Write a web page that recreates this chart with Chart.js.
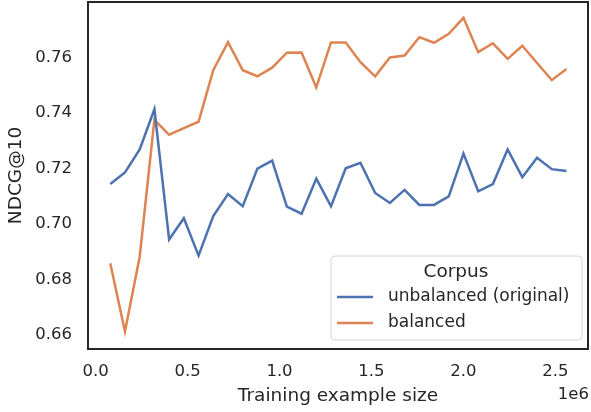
<!DOCTYPE html>
<html>
<head>
<meta charset="utf-8">
<script src="https://cdn.jsdelivr.net/npm/chart.js@4"></script>
<style>
  body { margin: 0; background: #fff; }
  #wrap { width: 591px; height: 412px; }
</style>
</head>
<body>
<div id="wrap"><canvas id="myLineChart" width="591" height="412"></canvas></div>
<script>
// training example sizes (k * 80000)
var sizes = [80000, 160000, 240000, 320000, 400000, 480000, 560000, 640000,
    720000, 800000, 880000, 960000, 1040000, 1120000, 1200000, 1280000,
    1360000, 1440000, 1520000, 1600000, 1680000, 1760000, 1840000, 1920000,
    2000000, 2080000, 2160000, 2240000, 2320000, 2400000, 2480000, 2560000];

var unbalanced = [0.7144, 0.7186, 0.7269, 0.7414, 0.6944, 0.7021, 0.6886, 0.7029,
    0.7108, 0.7064, 0.7200, 0.7229, 0.7063, 0.7037, 0.7164, 0.7064,
    0.7201, 0.7221, 0.7112, 0.7076, 0.7123, 0.7069, 0.7069, 0.7100,
    0.7254, 0.7118, 0.7144, 0.7269, 0.7169, 0.7239, 0.7198, 0.7191];

var balanced = [0.6858, 0.6612, 0.6882, 0.7376, 0.7322, 0.7346, 0.7369, 0.7555,
    0.7656, 0.7555, 0.7533, 0.7564, 0.7618, 0.7619, 0.7493, 0.7655,
    0.7655, 0.7584, 0.7533, 0.7601, 0.7608, 0.7674, 0.7654, 0.7686,
    0.7744, 0.7620, 0.7652, 0.7596, 0.7643, 0.7581, 0.7519, 0.7559];

var xTicks = [0, 500000, 1000000, 1500000, 2000000, 2500000];
var yTicks = [0.66, 0.68, 0.70, 0.72, 0.74, 0.76];

var seriesNames = ['unbalanced (original)', 'balanced'];
var seriesColors = ['#4C72B0', '#DD8452'];

var textColor = '#262626';
var fontFamily = '"DejaVu Sans", sans-serif';

function toPoints(values) {
    return values.map(function(v, i) { return { x: sizes[i], y: v }; });
}

// frame around the axes, the "1e6" offset text and the legend box
var decorations = {
    id: 'decorations',
    afterDatasetsDraw: function(chart) {
        var c = chart.ctx;
        var a = chart.chartArea;
        c.save();

        // legend
        var lx = 331, ly = 256, lw = 251, lh = 84;
        c.beginPath();
        c.roundRect(lx, ly, lw, lh, 4);
        c.fillStyle = 'rgba(255,255,255,0.8)';
        c.fill();
        c.strokeStyle = '#d6d6d6';
        c.lineWidth = 1;
        c.stroke();

        c.fillStyle = textColor;
        c.font = '18.5px ' + fontFamily;
        c.textAlign = 'center';
        c.textBaseline = 'middle';
        c.fillText('Corpus', 456, 272);

        c.font = '17px ' + fontFamily;
        c.textAlign = 'left';
        var rows = [297, 323];
        chart.data.datasets.forEach(function(ds, i) {
            c.strokeStyle = ds.borderColor;
            c.lineWidth = 2.5;
            c.beginPath();
            c.moveTo(337, rows[i]);
            c.lineTo(373, rows[i]);
            c.stroke();
            c.fillStyle = textColor;
            c.fillText(ds.label, 388, rows[i]);
        });

        // axes frame
        c.strokeStyle = textColor;
        c.lineWidth = 2;
        c.strokeRect(a.left, a.top, a.right - a.left, a.bottom - a.top);

        // offset text
        c.fillStyle = textColor;
        c.font = '16.5px ' + fontFamily;
        c.textAlign = 'right';
        c.textBaseline = 'middle';
        c.fillText('1e6', 589, 395);
        c.restore();
    }
};

var ctx = document.getElementById('myLineChart').getContext('2d');
var myLineChart = new Chart(ctx, {
    type: 'line',
    data: {
        datasets: [
            {
                label: seriesNames[0],
                data: toPoints(unbalanced),
                borderColor: seriesColors[0],
                backgroundColor: seriesColors[0],
                borderWidth: 2.5,
                pointRadius: 0,
                tension: 0
            },
            {
                label: seriesNames[1],
                data: toPoints(balanced),
                borderColor: seriesColors[1],
                backgroundColor: seriesColors[1],
                borderWidth: 2.5,
                pointRadius: 0,
                tension: 0
            }
        ]
    },
    options: {
        responsive: false,
        animation: false,
        layout: {
            padding: { left: 0, top: 2, right: 3, bottom: 0 }
        },
        scales: {
            x: {
                type: 'linear',
                min: -41000,
                max: 2677000,
                afterBuildTicks: function(scale) {
                    scale.ticks = xTicks.map(function(v) { return { value: v }; });
                },
                afterFit: function(scale) {
                    scale.height = 63;
                    scale.paddingLeft = 0;
                    scale.paddingRight = 0;
                },
                grid: { display: false, drawTicks: false },
                border: { display: false },
                ticks: {
                    padding: 13,
                    color: textColor,
                    font: { family: fontFamily, size: 16.5 },
                    maxRotation: 0,
                    callback: function(v) { return (v / 1e6).toFixed(1); }
                },
                title: {
                    display: true,
                    text: 'Training example size',
                    color: textColor,
                    font: { family: fontFamily, size: 18.5 },
                    padding: { top: 0, bottom: 4.5 }
                }
            },
            y: {
                min: 0.6549,
                max: 0.7801,
                afterBuildTicks: function(scale) {
                    scale.ticks = yTicks.map(function(v) { return { value: v }; });
                },
                afterFit: function(scale) {
                    scale.width = 88;
                    scale.paddingTop = 0;
                    scale.paddingBottom = 0;
                },
                grid: { display: false, drawTicks: false },
                border: { display: false },
                ticks: {
                    padding: 16,
                    color: textColor,
                    font: { family: fontFamily, size: 16.5 },
                    callback: function(v) { return v.toFixed(2); }
                },
                title: {
                    display: true,
                    text: 'NDCG@10',
                    color: textColor,
                    font: { family: fontFamily, size: 18.5 },
                    padding: { top: 5, bottom: 0 }
                }
            }
        },
        plugins: {
            legend: { display: false },
            tooltip: { enabled: false }
        }
    },
    plugins: [decorations]
});
</script>
</body>
</html>
